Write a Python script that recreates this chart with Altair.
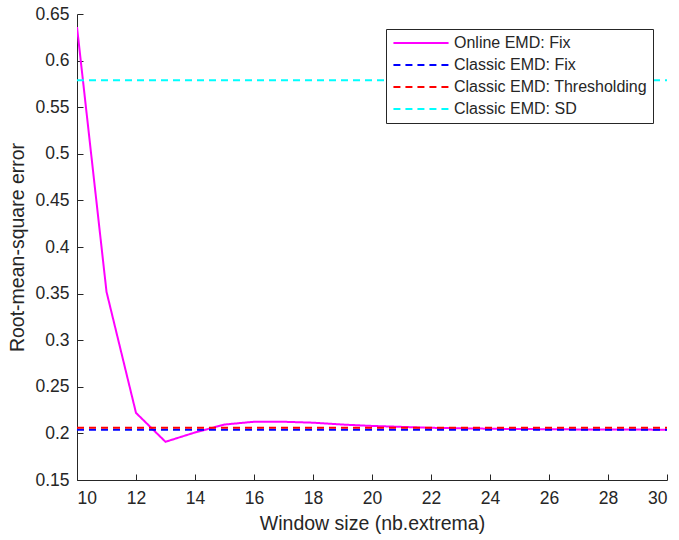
import altair as alt
import pandas as pd

# Online EMD (fixed criterion): RMSE per window size
window_sizes = list(range(10, 31))
online_fix = [0.636, 0.352, 0.222, 0.191, 0.201, 0.2095, 0.2125, 0.2125, 0.2115,
              0.2095, 0.208, 0.207, 0.206, 0.2055, 0.205, 0.2047, 0.2045, 0.2043,
              0.2042, 0.2041, 0.204]

# Classic EMD reference levels (independent of window size)
classic_names = ["Classic EMD: Fix", "Classic EMD: Thresholding", "Classic EMD: SD"]
classic_values = [0.204, 0.206, 0.579]
x_span = [10, 30]

series_order = ["Online EMD: Fix"] + classic_names
series_colors = ["#FF00FF", "#0000FF", "#FF0000", "#00FFFF"]
series_dash = [[1, 0], [7, 5], [7, 5], [7, 5]]

x_ticks = list(range(10, 31, 2))
y_ticks = [0.15, 0.2, 0.25, 0.3, 0.35, 0.4, 0.45, 0.5, 0.55, 0.6, 0.65]

online_df = pd.DataFrame({"w": window_sizes, "rmse": online_fix, "series": series_order[0]})
classic_rows = []
for name, val in zip(classic_names, classic_values):
    classic_rows += [{"w": w, "rmse": val, "series": name} for w in x_span]
classic_df = pd.DataFrame(classic_rows)

FONT = "Liberation Sans"
INK = "#262626"

x_scale = alt.Scale(domain=[10, 30], nice=False)
y_scale = alt.Scale(domain=[0.15, 0.65], nice=False, zero=False)

color = alt.Color(
    "series:N",
    scale=alt.Scale(domain=series_order, range=series_colors),
    sort=series_order,
    legend=alt.Legend(
        title=None,
        orient="none",
        legendX=309,
        legendY=15,
        symbolType="M-4,0H4",
        symbolSize=190,
        symbolStrokeWidth=2,
        symbolOffset=21,
        labelFontSize=16,
        labelFont=FONT,
        labelColor=INK,
        labelLimit=400,
        strokeColor=INK,
        fillColor="white",
        padding=6,
        rowPadding=6,
        labelOffset=25,
    ),
)
dash = alt.StrokeDash(
    "series:N",
    scale=alt.Scale(domain=series_order, range=series_dash),
    sort=series_order,
    legend=None,
)

# Main layer: labelled axes without ticks
online = (
    alt.Chart(online_df)
    .mark_line(strokeWidth=2, clip=True)
    .encode(
        x=alt.X("w:Q", scale=x_scale,
                axis=alt.Axis(title="Window size (nb.extrema)", values=x_ticks, format="d",
                              grid=False, ticks=False, labelPadding=9, titlePadding=8)),
        y=alt.Y("rmse:Q", scale=y_scale,
                axis=alt.Axis(title="Root-mean-square error", values=y_ticks, format=".2~f",
                              grid=False, ticks=False, labelPadding=8, titlePadding=7)),
        color=color,
        strokeDash=dash,
    )
)

# Reference levels; their axes only carry inward-facing ticks
classic = (
    alt.Chart(classic_df)
    .mark_line(strokeWidth=2, clip=True)
    .encode(
        x=alt.X("w:Q", scale=x_scale,
                axis=alt.Axis(title=None, orient="bottom", values=x_ticks, labels=False,
                              domain=False, grid=False, ticks=True, tickSize=6, offset=-6)),
        y=alt.Y("rmse:Q", scale=y_scale,
                axis=alt.Axis(title=None, orient="left", values=y_ticks, labels=False,
                              domain=False, grid=False, ticks=True, tickSize=6, offset=-6)),
        color=color,
        strokeDash=dash,
        detail="series:N",
    )
)

chart = (
    alt.layer(online, classic)
    .resolve_axis(x="independent", y="independent")
    .properties(width=590, height=466, padding={"left": 77, "top": 14, "right": 12, "bottom": 60},
                autosize="none", background="white")
    .configure_view(stroke=None)
    .configure_axis(
        labelFont=FONT,
        titleFont=FONT,
        labelFontSize=17.5,
        titleFontSize=19.5,
        titleFontWeight="normal",
        labelColor=INK,
        titleColor=INK,
        domainColor=INK,
        tickColor=INK,
        domainWidth=1,
        tickWidth=1,
    )
)

chart.save("out.html", embed_options={"renderer": "svg", "actions": False})
